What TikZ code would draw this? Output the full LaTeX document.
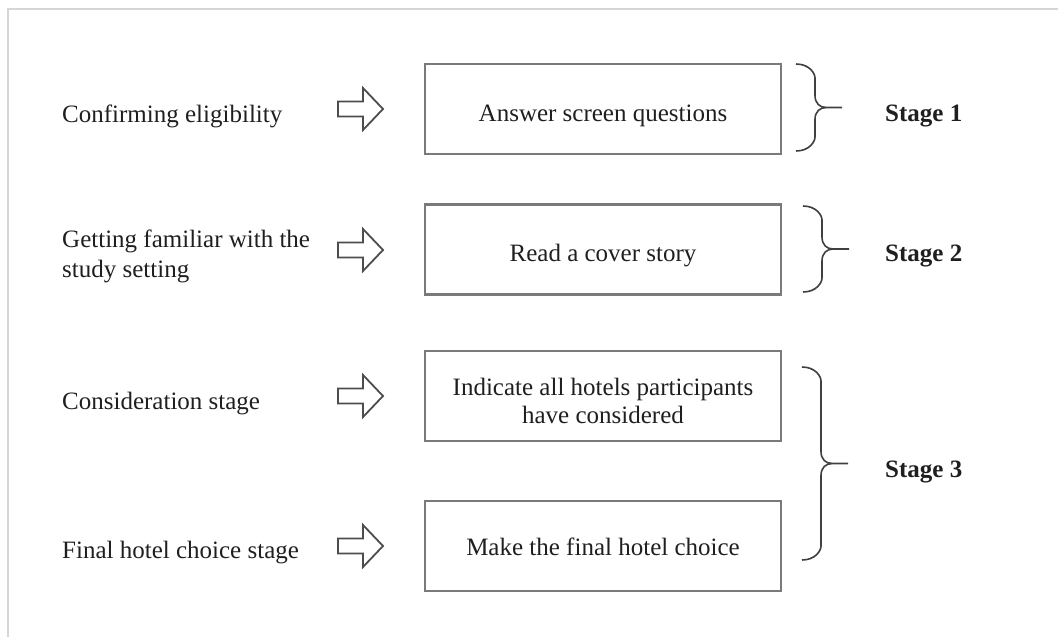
\documentclass[tikz,border=0pt]{standalone}
\usepackage{fontspec}
\setmainfont{Liberation Serif}
\usetikzlibrary{calc}

% curly brace opening to the right: #1 = x of the ends, #2 = top y, #3 = bottom y, #4 = tip name
\newcommand\stagebrace[4]{%
  \pgfmathsetmacro\bmid{(#2+#3)/2}%
  \draw[bracestyle] (#1,#2) .. controls +(13,0) and +(0,-5) .. (#1+19,#2+14)
    -- (#1+19,\bmid-12) .. controls +(0,8) and +(-6,0) .. (#1+30,\bmid)
    -- (#1+46,\bmid) coordinate (#4);
  \draw[bracestyle] (#1+30,\bmid) .. controls +(-6,0) and +(0,-8) .. (#1+19,\bmid+12)
    -- (#1+19,#3-14) .. controls +(0,5) and +(13,0) .. (#1,#3);
}

\begin{document}
\begin{tikzpicture}[x=1pt,y=-1pt,
  every node/.style={font=\fontsize{25}{30}\selectfont, text=black!88},
  stepbox/.style={draw=black!52, line width=2.4pt, minimum width=356pt,
    minimum height=90pt, inner sep=0pt},
  steptext/.style={align=center, inner sep=0pt},
  label/.style={anchor=base west, align=left, inner sep=0pt},
  stagelabel/.style={anchor=base west, inner sep=0pt,
    font=\fontsize{25}{30}\selectfont\bfseries},
  bracestyle/.style={draw=black!75, line width=1.6pt},
  hollowarrow/.pic={
    \draw[draw=black!70, line width=1.8pt, line join=miter]
      (-22,-7.5) -- (3,-7.5) -- (3,-21) -- (23,0) -- (3,21) -- (3,7.5)
      -- (-22,7.5) -- cycle;
  }]
\useasboundingbox (0,0) rectangle (1058,637);

% frame lines along the top and left
\draw[black!16, line width=2pt] (8,637) -- (8,9) -- (1058,9);

% task boxes
\node[stepbox] (b1) at (603,109) {};
\node[stepbox] (b2) at (603,249.5) {};
\node[stepbox] (b3) at (603,396) {};
\node[stepbox] (b4) at (603,546) {};

% texts inside the boxes
\node[steptext, yshift=-7pt] (c1) at (b1) {Answer screen questions};
\node[steptext, yshift=-6pt] (c2) at (b2) {Read a cover story};
\node[steptext, yshift=-5pt, font=\fontsize{25}{28}\selectfont] (c3) at (b3)
  {Indicate all hotels participants\\have considered};
\node[steptext, yshift=-1pt] (c4) at (b4) {Make the final hotel choice};

% descriptions on the left
\node[label] (t1) at (62,122) {Confirming eligibility};
\node[label] (t2) at (62,277) {Getting familiar with the\\study setting};
\node[label] (t3) at (62,409) {Consideration stage};
\node[label] (t4) at (62,558) {Final hotel choice stage};

% hollow block arrows
\coordinate (a1) at (360,109);
\coordinate (a2) at (360,250);
\coordinate (a3) at (360,396);
\coordinate (a4) at (360,546);
\foreach \a in {a1,a2,a3,a4} \pic at (\a) {hollowarrow};

% stage braces and labels
\stagebrace{796}{64}{151}{s1}
\stagebrace{803}{206}{292}{s2}
\stagebrace{802}{367}{560}{s3}
\node[stagelabel] (l1) at (885,121) {Stage 1};
\node[stagelabel] (l2) at (885,261) {Stage 2};
\node[stagelabel] (l3) at (885,477) {Stage 3};
\end{tikzpicture}
\end{document}
